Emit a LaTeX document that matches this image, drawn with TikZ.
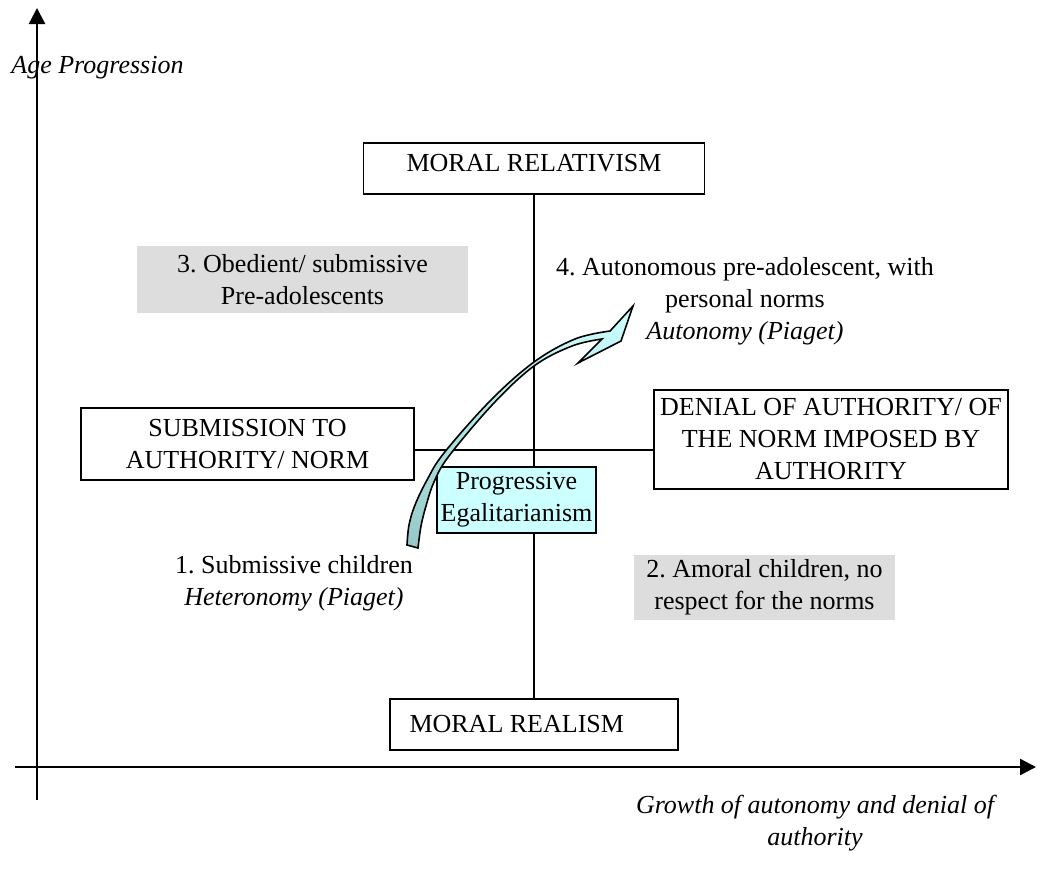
\documentclass[tikz,border=0pt]{standalone}
\usepackage{fontspec}
\setmainfont{Liberation Serif}
\usetikzlibrary{arrows.meta}
\definecolor{greyfill}{RGB}{221,221,221}
\definecolor{cyanfill}{RGB}{204,255,255}
\definecolor{ribbontop}{RGB}{204,255,255}
\definecolor{ribbonbot}{RGB}{150,200,200}
\begin{document}
\frenchspacing
\begin{tikzpicture}[x=0.5pt,y=-0.5pt,
  every node/.style={font=\fontsize{13}{16}\selectfont, inner sep=0pt},
  box/.style={draw, line width=0.9pt, align=center},
  greybox/.style={fill=greyfill, align=center},
  label/.style={align=center},
  axis/.style={line width=1.2pt, -{Triangle[length=8pt,width=8pt]}},
  link/.style={line width=0.9pt},
  ribbon/.style={draw, line width=0.8pt, line join=miter, top color=ribbontop, bottom color=ribbonbot}
]
\useasboundingbox (0,0) rectangle (1037,873);

% axes
\coordinate (yb) at (37,800);
\coordinate (yt) at (37,8);
\coordinate (xl) at (15,767);
\coordinate (xr) at (1036,767);
\draw[axis] (yb) -- (yt);
\draw[axis] (xl) -- (xr);
\node[anchor=west, font=\fontsize{13}{16}\selectfont\itshape] (agelab) at (11,68) {Age Progression};
\node[label, font=\fontsize{13}{16}\selectfont\itshape] (xlab) at (815,823) {Growth of autonomy and denial of\\authority};

% boxes
\node[box, minimum width=170.5pt, text height=14pt, text depth=11.5pt] (rel) at (534,168.5) {MORAL RELATIVISM};
\node[box, minimum width=144pt, minimum height=25.5pt] (real) at (534,724.5) {};
\node[anchor=west] (realtext) at ([xshift=10pt]real.west) {MORAL REALISM};
\node[box, minimum width=166.5pt, minimum height=36pt] (sub) at (247.5,444) {SUBMISSION TO\\AUTHORITY/ NORM};
\node[box, minimum width=177pt, minimum height=49.5pt] (den) at (831,439.5) {DENIAL OF AUTHORITY/ OF\\THE NORM IMPOSED BY\\AUTHORITY};

\coordinate (hline) at (0,450);
\draw[link] (rel.south) -- (real.north);
\draw[link] (sub.east |- hline) -- (den.west |- hline);

\node[box, fill=cyanfill, minimum width=79.5pt, minimum height=33pt] (prog) at (516.5,500) {Progressive\\Egalitarianism};

% quadrant labels
\node[greybox, minimum width=165.5pt, minimum height=33.5pt] (q3) at (302.5,279.5) {3. Obedient/ submissive\\Pre-adolescents};
\node[greybox, minimum width=130.5pt, minimum height=32.5pt] (q2) at (764.5,587.5) {2. Amoral children, no\\respect for the norms};
\node[label] (q4) at (745,301) {4. Autonomous pre-adolescent, with\\personal norms\\\textit{Autonomy (Piaget)}};
\node[label] (q1) at (294,583.5) {1. Submissive children\\\textit{Heteronomy (Piaget)}};

% curved ribbon arrow
\draw[ribbon] plot[smooth, tension=0.6] coordinates {(407,545) (409,525) (415,505) (427,480) (444,453) (490,401) (534,362) (575,339) (610,331)}
  -- (633,306) -- (621,341) -- (578,363) -- (602,339)
  -- plot[smooth, tension=0.6] coordinates {(602,339) (572,346) (534,366) (493,404) (449,456) (434,482) (426,506) (421,526) (418,548)}
  -- cycle;
\end{tikzpicture}
\end{document}
